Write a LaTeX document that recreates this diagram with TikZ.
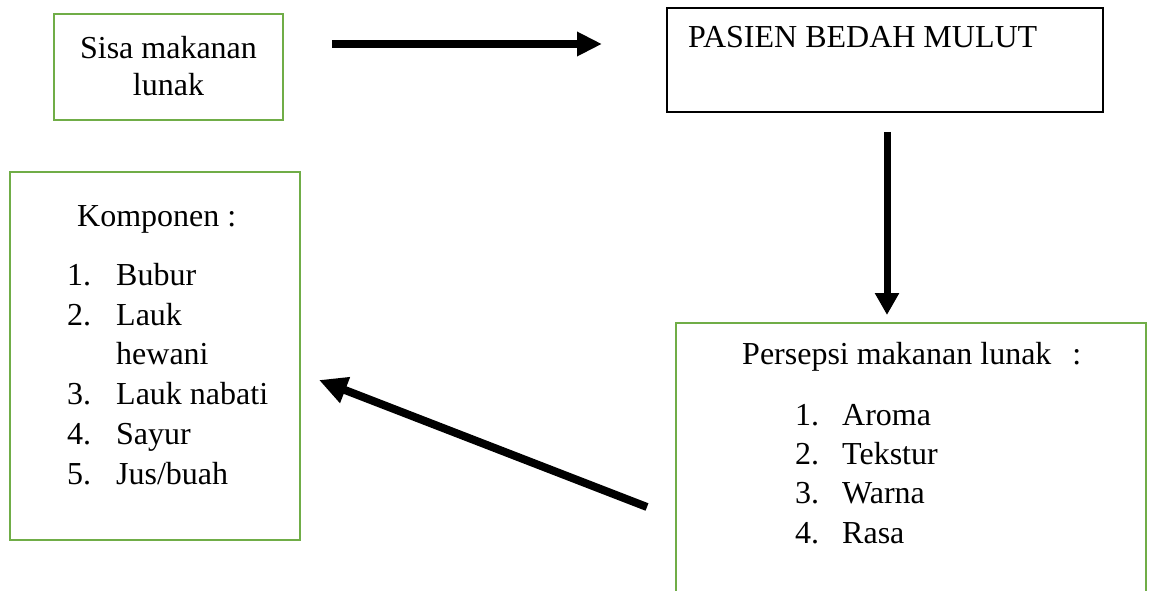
\documentclass[tikz,border=0pt]{standalone}
\usepackage{fontspec}
\setmainfont{Liberation Serif}
\usetikzlibrary{arrows.meta}
\definecolor{boxgreen}{HTML}{70AD47}
\begin{document}
\begin{tikzpicture}[x=1pt,y=-1pt,
  font=\fontsize{32pt}{39.7pt}\selectfont,
  greenbox/.style={draw=boxgreen, line width=2.5pt, rectangle, inner sep=0pt},
  blackbox/.style={draw=black, line width=2pt, rectangle, inner sep=0pt},
  txt/.style={anchor=base west, inner sep=0pt},
  ctxt/.style={anchor=base, inner sep=0pt},
  bigarrow/.style={line width=8pt, -{Triangle[length=25pt,width=23pt]}}]
\useasboundingbox (0,0) rectangle (1149,591);
\clip (0,0) rectangle (1149,591);

% boxes
\node[greenbox, minimum width=229pt, minimum height=106pt] (sisa) at (168.5,67) {};
\node[blackbox, minimum width=436pt, minimum height=104pt] (pasien) at (885,60) {};
\node[greenbox, minimum width=470pt, minimum height=300pt] (persepsi) at (911,473) {};
\node[greenbox, minimum width=290pt, minimum height=368pt] (komponen) at (155,356) {};

% texts
\node[ctxt] (s1) at (168.5,59) {Sisa makanan};
\node[ctxt] (s2) at (168.5,96) {lunak};

\node[txt] (p1) at (688,48) {PASIEN BEDAH MULUT};

\node[txt] (q0) at (742,364) {Persepsi makanan lunak\hspace{21pt}:};
\node[txt] (q1n) at (795,425) {1.};
\node[txt] (q1) at (842,425) {Aroma};
\node[txt] (q2n) at (795,464) {2.};
\node[txt] (q2) at (842,464) {Tekstur};
\node[txt] (q3n) at (795,503) {3.};
\node[txt] (q3) at (842,503) {Warna};
\node[txt] (q4n) at (795,543) {4.};
\node[txt] (q4) at (842,543) {Rasa};

\node[txt] (k0) at (77,226) {Komponen :};
\node[txt] (k1n) at (67,285) {1.};
\node[txt] (k1) at (116,285) {Bubur};
\node[txt] (k2n) at (67,325) {2.};
\node[txt] (k2) at (116,325) {Lauk};
\node[txt] (k2b) at (116,364) {hewani};
\node[txt] (k3n) at (67,404) {3.};
\node[txt] (k3) at (116,404) {Lauk nabati};
\node[txt] (k4n) at (67,444) {4.};
\node[txt] (k4) at (116,444) {Sayur};
\node[txt] (k5n) at (67,484) {5.};
\node[txt] (k5) at (116,484) {Jus/buah};

% arrows
\coordinate (a1s) at (332,44);
\coordinate (a1e) at (602,44);
\draw[bigarrow] (a1s) -- (a1e);

\coordinate (a2s) at (887,132);
\coordinate (a2e) at (887,315);
\draw[bigarrow, line width=7pt, -{Triangle[length=22pt,width=23pt]}] (a2s) -- (a2e);

\coordinate (a3s) at (647,507);
\coordinate (a3e) at (319,380);
\draw[bigarrow, -{Triangle[length=28pt,width=26pt]}] (a3s) -- (a3e);
\end{tikzpicture}
\end{document}
